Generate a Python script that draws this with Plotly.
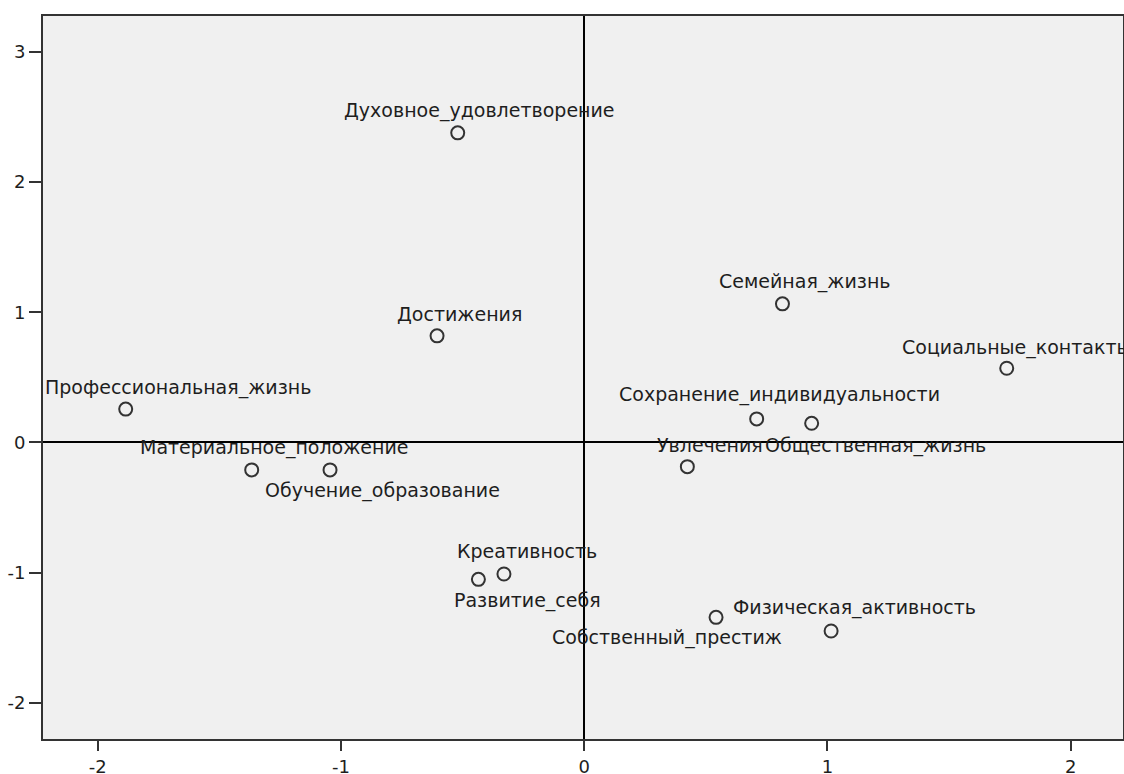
import plotly.graph_objects as go

# Object points on the two dimensions
names = [
    "Духовное_удовлетворение", "Достижения", "Профессиональная_жизнь",
    "Материальное_положение", "Обучение_образование", "Креативность",
    "Развитие_себя", "Собственный_престиж", "Физическая_активность",
    "Семейная_жизнь", "Социальные_контакты", "Сохранение_индивидуальности",
    "Увлечения", "Общественная_жизнь",
]
dim1 = [-0.520, -0.605, -1.885, -1.367, -1.045, -0.330, -0.435,
        0.542, 1.015, 0.815, 1.737, 0.709, 0.424, 0.935]
dim2 = [2.379, 0.819, 0.256, -0.211, -0.211, -1.011, -1.052,
        -1.344, -1.449, 1.065, 0.570, 0.181, -0.186, 0.147]

x_ticks = [-2, -1, 0, 1, 2]
x_labels = ["-2", "-1", "0", "1", "2"]
y_ticks = [-2, -1, 0, 1, 2, 3]
y_labels = ["-2", "-1", "0", "1", "2", "3"]

# label placement: (anchor, x offset px, y offset px)
label_pos = [
    ("center", 22, 22), ("center", 22, 22), ("left", -83, 22),
    ("center", 23, 22), ("left", -67, -21), ("center", 23, 23),
    ("left", -26, -21), ("center", -49, -20), ("center", 23, 23),
    ("center", 23, 22), ("left", -107, 21), ("center", 23, 24),
    ("center", 23, 22), ("left", -49, -22),
]

FONT = "DejaVu Sans, Verdana, sans-serif"

fig = go.Figure()
fig.add_trace(go.Scatter(
    x=dim1, y=dim2, mode="markers",
    marker=dict(symbol="circle-open", size=13, color="#333333",
                line=dict(width=2, color="#333333")),
    hoverinfo="text", hovertext=names, showlegend=False,
))

for n, xv, yv, (anc, dx, dy) in zip(names, dim1, dim2, label_pos):
    fig.add_annotation(
        x=xv, y=yv, text=n, showarrow=False,
        xanchor=anc, yanchor="middle", xshift=dx, yshift=dy,
        font=dict(family=FONT, size=19, color="#1e1e1e"),
    )

axis_common = dict(
    showgrid=False, zeroline=True, zerolinecolor="#000000", zerolinewidth=2,
    showline=True, linecolor="#333333", linewidth=2, mirror=True,
    ticks="outside", tickwidth=2, tickcolor="#333333",
    tickfont=dict(family=FONT, size=18, color="#1e1e1e"),
    automargin=False,
)

fig.update_xaxes(range=[-2.225, 2.215], tickvals=x_ticks, ticktext=x_labels,
                 ticklen=10, ticklabelstandoff=0, **axis_common)
fig.update_yaxes(range=[-2.279, 3.277], tickvals=y_ticks, ticktext=y_labels,
                 ticklen=12, ticklabelstandoff=0, **axis_common)

fig.update_layout(
    width=1124, height=774,
    margin=dict(l=43, r=1, t=16, b=35),
    paper_bgcolor="#ffffff", plot_bgcolor="#f0f0f0",
)

fig.write_html("out.html")
